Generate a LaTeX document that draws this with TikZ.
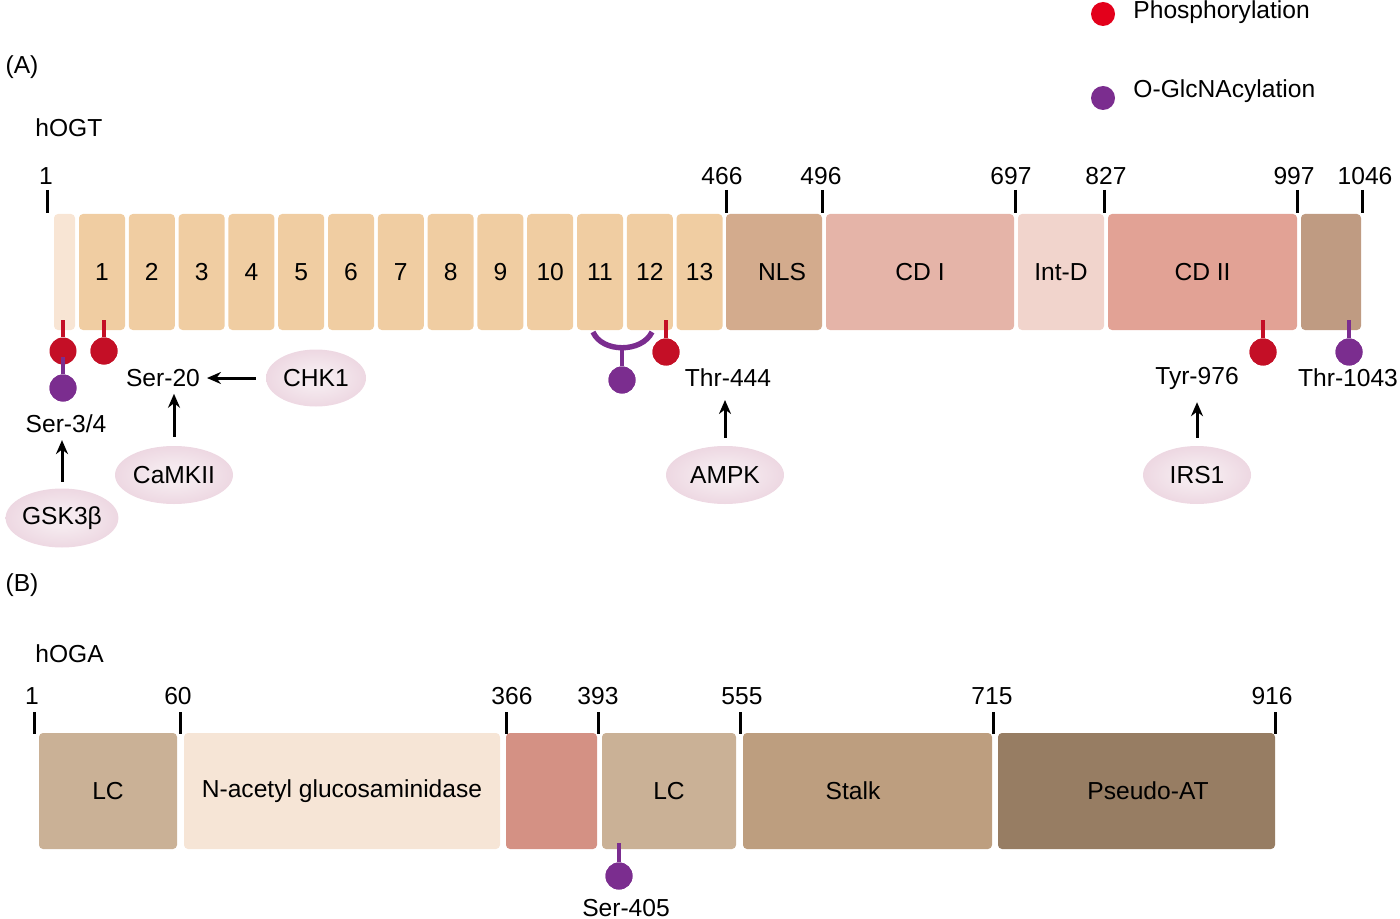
\documentclass[tikz,border=0pt]{standalone}
\usepackage{fontspec}
\setmainfont{Liberation Sans}
\usetikzlibrary{shapes.geometric,arrows.meta}
\definecolor{nterm}{HTML}{F8E5D4}
\definecolor{tpr}{HTML}{F0CDA2}
\definecolor{nlsc}{HTML}{D3AB8D}
\definecolor{cdone}{HTML}{E5B4A8}
\definecolor{intd}{HTML}{F1D4CC}
\definecolor{cdtwo}{HTML}{E2A295}
\definecolor{cterm}{HTML}{BF9B82}
\definecolor{lcc}{HTML}{CAB196}
\definecolor{nag}{HTML}{F6E5D6}
\definecolor{hred}{HTML}{D49184}
\definecolor{stalkc}{HTML}{BD9E7F}
\definecolor{pseudoc}{HTML}{977D63}
\definecolor{phos}{HTML}{C40F26}
\definecolor{glc}{HTML}{7B2D8F}
\definecolor{legred}{HTML}{E3001B}
\definecolor{kinin}{HTML}{F5EAEF}
\definecolor{kinout}{HTML}{E2BDCF}
\pgfdeclareradialshading{kinshade}{\pgfpoint{0bp}{0bp}}{color(0bp)=(kinin); color(8bp)=(kinin); color(50bp)=(kinout)}
\begin{document}
\begin{tikzpicture}[x=0.5pt,y=-0.5pt,
  font=\fontsize{12.3}{15}\selectfont,
  dom/.style={rectangle, rounded corners=2pt, inner sep=0pt, minimum height=58pt},
  tickln/.style={line width=1.5pt},
  kin/.style={ellipse, inner sep=0pt, shading=kinshade},
  arr/.style={-{Stealth[length=7pt,width=6pt]}, line width=1.5pt},
  pstem/.style={line width=1.6pt, draw=phos},
  gstem/.style={line width=1.6pt, draw=glc},
  pdot/.style={circle, fill=phos, inner sep=0pt, minimum size=13.5pt},
  gdot/.style={circle, fill=glc, inner sep=0pt, minimum size=13.5pt}
]
\useasboundingbox (0,0) rectangle (1400,919);

% legend
\node[circle, fill=legred, inner sep=0pt, minimum size=12pt] (legp) at (1103,14) {};
\node[anchor=west, inner sep=0pt] (legpt) at (1133,12) {Phosphorylation};
\node[circle, fill=glc, inner sep=0pt, minimum size=12pt] (legg) at (1103,98) {};
\node[anchor=west, inner sep=0pt] (leggt) at (1133,91) {O-GlcNAcylation};

% headings
\node (labA) at (22,67) {(A)};
\node[anchor=west, inner sep=0pt] (hogt) at (35,128) {hOGT};
\node (labB) at (22,585) {(B)};
\node[anchor=west, inner sep=0pt] (hoga) at (35,654) {hOGA};

% ---- hOGT ----
\node[dom, fill=nterm, minimum width=10.5pt] (nt) at (64.5,272) {};
\foreach \i in {1,...,13} {
  \node[dom, fill=tpr, minimum width=23pt] (tpr\i) at ({102+(\i-1)*49.8},272) {\i};
}
\node[dom, fill=nlsc, minimum width=48pt] (nls) at (774,272) {};
\node (nlst) at ([xshift=4pt]nls.center) {NLS};
\node[dom, fill=cdone, minimum width=94pt] (cdI) at (920,272) {CD I};
\node[dom, fill=intd, minimum width=43pt] (intD) at (1061,272) {Int-D};
\node[dom, fill=cdtwo, minimum width=94.5pt] (cdII) at (1202.5,272) {CD II};
\node[dom, fill=cterm, minimum width=30pt] (ct) at (1331,272) {};

% ticks hOGT
\foreach \x/\t/\d in {47/1/-1, 726/466/-4, 822/496/-1, 1015/697/-4, 1104/827/2, 1297/997/-3, 1362/1046/3} {
  \draw[tickln] (\x,190) -- (\x,213);
  \node[inner sep=0pt] (tk\t) at (\x+\d,176) {\t};
}

% modification pins hOGT
\coordinate (s34) at (63,320);
\node[pdot] (p34) at (63,351) {};
\draw[pstem] (s34) -- (p34);
\coordinate (s34g) at (63,357);
\node[gdot] (g34) at (63,388) {};
\draw[gstem] (s34g) -- (g34);
\node[gdot] at (63,388) {};

\coordinate (s20) at (104,320);
\node[pdot] (p20) at (104,351) {};
\draw[pstem] (s20) -- (p20);
\node[pdot] at (104,351) {};

\coordinate (arcL) at (593,332);
\coordinate (arcR) at (652,332);
\coordinate (arcB) at (622,346);
\draw[glc, line width=2.7pt] (arcL) .. controls (602,353) and (642,353) .. (arcR);
\node[gdot] (g11) at (622,380) {};
\draw[gstem] (arcB) -- (g11);
\node[gdot] at (622,380) {};

\coordinate (s444) at (666,320);
\node[pdot] (p444) at (666,352) {};
\draw[pstem] (s444) -- (p444);
\node[pdot] at (666,352) {};

\coordinate (s976) at (1263,320);
\node[pdot] (p976) at (1263,352) {};
\draw[pstem] (s976) -- (p976);
\node[pdot] at (1263,352) {};

\coordinate (s1043) at (1349,320);
\node[gdot] (g1043) at (1349,352) {};
\draw[gstem] (s1043) -- (g1043);
\node[gdot] at (1349,352) {};

% site labels
\node (ser20) at (163,378) {Ser-20};
\node (ser34) at (66,424) {Ser-3/4};
\node (thr444) at (728,378) {Thr-444};
\node (tyr976) at (1197,378) {Tyr-976};
\node (thr1043) at (1348,378) {Thr-1043};

% kinases
\node[kin, minimum width=50pt, minimum height=28.5pt] (chk1) at (316,378) {CHK1};
\node[kin, minimum width=59pt, minimum height=29pt] (camkii) at (174,475) {CaMKII};
\node[kin, minimum width=54pt, minimum height=29.5pt] (gsk) at (62,518) {GSK3β};
\node[kin, minimum width=59pt, minimum height=29pt] (ampk) at (725,475) {AMPK};
\node[kin, minimum width=54pt, minimum height=29pt] (irs1) at (1197,475) {IRS1};

\draw[arr, shorten <=5pt] (chk1) -- (ser20);
\draw[arr, shorten <=4.5pt] (camkii.north) -- (camkii.north |- ser20.south);
\draw[arr, shorten <=3.3pt] (gsk.north) -- (gsk.north |- ser34.south);
\draw[arr, shorten <=4pt, shorten >=3pt] (ampk.north) -- (ampk.north |- thr444.south);
\draw[arr, shorten <=4pt, shorten >=3pt] (irs1.north) -- (irs1.north |- tyr976.south);

% ---- hOGA ----
\node[dom, fill=lcc, minimum width=69pt] (lc1) at (108,791) {LC};
\node[dom, fill=nag, minimum width=158pt] (nagd) at (342,791) {N-acetyl glucosaminidase};
\node[dom, fill=hred, minimum width=45.5pt] (redd) at (551.5,791) {};
\node[dom, fill=lcc, minimum width=67pt] (lc2) at (669,791) {LC};
\node[dom, fill=stalkc, minimum width=124.5pt] (stalk) at (867.5,791) {};
\node (stalkt) at (853,791) {Stalk};
\node[dom, fill=pseudoc, minimum width=138.5pt] (pseudo) at (1136.5,791) {};
\node (pseudot) at (1148,791) {Pseudo-AT};

\foreach \x/\t/\d in {34/1/-2, 180/60/-2, 506/366/6, 598/393/0, 740/555/2, 993/715/-1, 1275/916/-3} {
  \draw[tickln] (\x,712) -- (\x,734);
  \node[inner sep=0pt] (tb\t) at (\x+\d,696) {\t};
}

\coordinate (s405) at (619,843);
\node[gdot] (g405) at (619,876) {};
\draw[gstem] (s405) -- (g405);
\node[gdot] at (619,876) {};
\node (ser405) at (626,908) {Ser-405};

\end{tikzpicture}
\end{document}
